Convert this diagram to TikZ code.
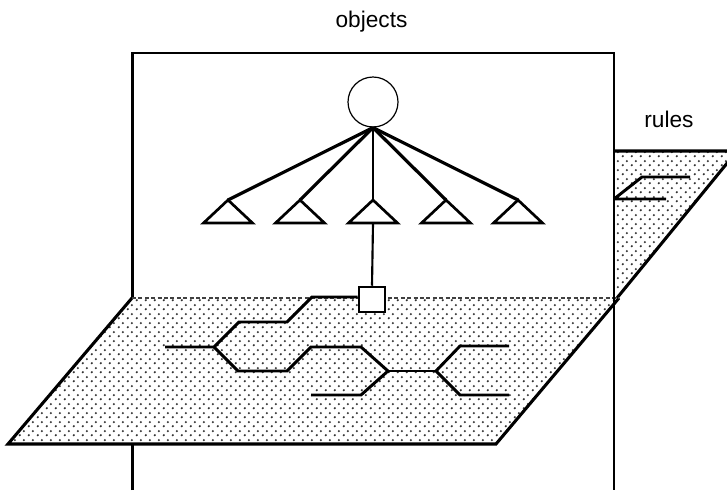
\documentclass[tikz,border=0pt]{standalone}
\usepackage{fontspec}
\setmainfont{Liberation Sans}
\usetikzlibrary{patterns}
\pgfdeclarepatternformonly{sdots}{\pgfpointorigin}{\pgfpoint{6.75pt}{6.75pt}}{\pgfpoint{6.75pt}{6.75pt}}{%
  \pgfpathcircle{\pgfpoint{1.5pt}{1.5pt}}{0.95pt}%
  \pgfpathcircle{\pgfpoint{4.875pt}{4.875pt}}{0.95pt}%
  \pgfusepath{fill}}
\begin{document}
\begin{tikzpicture}[x=0.75pt,y=-0.75pt,
  frame/.style={line width=1.8pt, line join=miter},
  pedge/.style={line width=2.3pt, line join=miter},
  plane/.style={pattern=sdots, pattern color=black!80},
  edgedash/.style={line width=1.4pt, black!75, dash pattern=on 3pt off 1.8pt},
  spoke/.style={line width=2.4pt},
  thinspoke/.style={line width=1.6pt},
  tri/.style={line width=2pt, line join=miter},
  net/.style={line width=2.2pt, line join=miter},
  thinnet/.style={line width=1.4pt},
  lbl/.style={font=\fontsize{17}{20}\selectfont, inner sep=0pt, anchor=base}]
\useasboundingbox (0,0) rectangle (727,490);

% rules plane (behind the objects box)
\coordinate (rtl) at (480,151);
\coordinate (rtr) at (737,151);
\coordinate (rbr) at (617,298);
\coordinate (rbl) at (360,298);
\fill[white] (rtl) -- (rtr) -- (rbr) -- (rbl) -- cycle;
\fill[plane] (rtl) -- (rtr) -- (rbr) -- (rbl) -- cycle;
\draw[pedge] (rtl) -- (rtr) -- (rbr);

% rules network
\coordinate (ra) at (614,199);
\coordinate (rb) at (666,199);
\coordinate (rc) at (642,177);
\coordinate (rd) at (690,177);
\draw[net] (rb) -- (ra) -- (rc) -- (rd);

% objects box
\coordinate (bbl) at (132.5,490);
\coordinate (btl) at (132.5,53);
\coordinate (btr) at (614,53);
\coordinate (bbr) at (614,490);
\fill[white] (btl) rectangle (bbr);
\draw[frame] (bbl) -- (btl) -- (btr) -- (bbr);

% lower plane in front
\coordinate (ptl) at (132,298);
\coordinate (ptr) at (619,298);
\coordinate (pbr) at (496,444);
\coordinate (pbl) at (8,444);
\fill[white] (ptl) -- (ptr) -- (pbr) -- (pbl) -- cycle;
\fill[plane] (ptl) -- (ptr) -- (pbr) -- (pbl) -- cycle;
\draw[pedge] (ptl) -- (pbl) -- (pbr) -- (ptr);
\draw[edgedash] (ptl) -- (ptr);
\draw[frame] (btr) -- (bbr);

% labels
\node[lbl] (objects) at (371.5,27) {objects};
\node[lbl] (rules) at (669,127) {rules};

% circle and spokes
\node[circle, draw, line width=0.9pt, minimum size=37.5pt, inner sep=0pt] (hub) at (373,102) {};
\foreach \i/\x in {1/228,2/300,3/373,4/446,5/518}{
  \coordinate (t\i) at (\x,200);
  \draw[tri] (t\i) -- ++(24.5,23) -- ++(-49,0) -- cycle;
}
\draw[spoke] (hub.south) -- (t1);
\draw[spoke] (hub.south) -- (t2);
\draw[thinspoke] (hub.south) -- (t3);
\draw[spoke] (hub.south) -- (t4);
\draw[spoke] (hub.south) -- (t5);

% square and link
\coordinate (t3b) at (373,223);
\node[draw, fill=white, line width=1.9pt, minimum width=19.5pt, minimum height=18.75pt, inner sep=0pt] (sq) at (372,299.5) {};
\draw[thinspoke] (t3b) -- (sq.north);

% network on the lower plane
\coordinate (a1) at (312,297);
\coordinate (a2) at (287,322);
\coordinate (a3) at (239,322);
\coordinate (j1) at (214,347);
\coordinate (a5) at (165,347);
\coordinate (b1) at (238,371);
\coordinate (b2) at (287,371);
\coordinate (b3) at (311,347);
\coordinate (b4) at (361,347);
\coordinate (j2) at (388,371);
\coordinate (c1) at (311,395);
\coordinate (c2) at (361,395);
\coordinate (j3) at (436,371);
\coordinate (e1) at (460,346);
\coordinate (e2) at (509,346);
\coordinate (f1) at (460,395);
\coordinate (f2) at (509,395);
\draw[net] (sq.west |- a1) -- (a1) -- (a2) -- (a3) -- (j1) -- (a5);
\draw[net] (j1) -- (b1) -- (b2) -- (b3) -- (b4) -- (j2);
\draw[net] (c1) -- (c2) -- (j2);
\draw[thinnet] (j2) -- (j3);
\draw[net] (j3) -- (e1) -- (e2);
\draw[net] (j3) -- (f1) -- (f2);
\end{tikzpicture}
\end{document}
